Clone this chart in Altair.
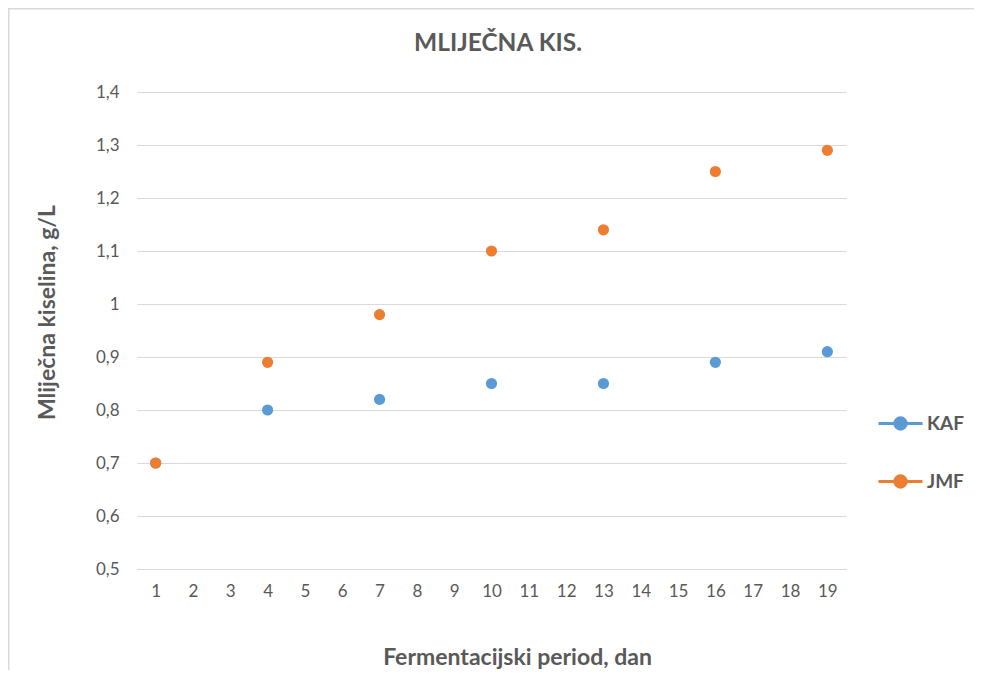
import altair as alt
import pandas as pd

days = [1, 4, 7, 10, 13, 16, 19]
kaf = [0.70, 0.80, 0.82, 0.85, 0.85, 0.89, 0.91]
jmf = [0.70, 0.89, 0.98, 1.10, 1.14, 1.25, 1.29]
series = ["KAF", "JMF"]
colors = ["#5B9BD5", "#ED7D31"]
x_ticks = list(range(1, 20))
y_ticks = [0.5, 0.6, 0.7, 0.8, 0.9, 1.0, 1.1, 1.2, 1.3, 1.4]
title_text = "MLIJEČNA KIS."

rows = []
for d, v in zip(days, kaf):
    rows.append({"dan": d, "vrijednost": v, "serija": "KAF"})
for d, v in zip(days, jmf):
    rows.append({"dan": d, "vrijednost": v, "serija": "JMF"})
df = pd.DataFrame(rows)

FONT = "Lato"
GRAY = "#595959"
W, H = 709, 477
PL, PT = 129, 84

scale_c = alt.Scale(domain=series, range=colors)
legend = alt.Legend(
    title=None, orient="none", legendX=740, legendY=308,
    symbolType="M-1,0H1M-0.26,0A0.26,0.26,0,1,1,0.26,0A0.26,0.26,0,1,1,-0.26,0Z",
    symbolSize=1936, symbolStrokeWidth=3, rowPadding=22, labelOffset=3,
    labelFont=FONT, labelFontSize=19, labelFontWeight="bold", labelColor=GRAY,
    padding=0,
)

points = alt.Chart(df).mark_point(filled=True, size=125, opacity=1, strokeWidth=0).encode(
    x=alt.X("dan:Q", scale=alt.Scale(domain=[0.5, 19.5], nice=False, zero=False),
            axis=alt.Axis(values=x_ticks, grid=False, ticks=False, domain=False,
                          title="Fermentacijski period, dan", labelPadding=14,
                          titleX=380, titleY=88, titleBaseline="middle", titleAlign="center")),
    y=alt.Y("vrijednost:Q", scale=alt.Scale(domain=[0.5, 1.4], nice=False, zero=False),
            axis=alt.Axis(values=y_ticks, grid=True, ticks=False, domain=False,
                          title="Mliječna kiselina, g/L", labelPadding=18,
                          labelExpr="replace(toString(round(datum.value*10)/10), '.', ',')",
                          titleX=-90, titleY=220, titleBaseline="middle", titleAlign="center")),
    color=alt.Color("serija:N", scale=scale_c, legend=legend),
    stroke=alt.Stroke("serija:N", scale=scale_c, legend=legend),
    order=alt.Order("ord:Q"),
).transform_calculate(ord="datum.serija == 'KAF' ? 0 : 1")

one = pd.DataFrame({"t": [title_text]})
frame_left = alt.Chart(one).mark_rule(stroke="#D9D9D9", strokeWidth=1.5).encode(
    x=alt.value(-PL + 0.75), y=alt.value(-PT), y2=alt.value(H + 200),
)
frame_top = alt.Chart(one).mark_rule(stroke="#D9D9D9", strokeWidth=1.5).encode(
    y=alt.value(-PT + 0.75), x=alt.value(-PL), x2=alt.value(W + 400),
)
title = alt.Chart(one).mark_text(
    font=FONT, fontSize=24.5, fontWeight="bold", color=GRAY, align="center", baseline="middle"
).encode(text="t:N", x=alt.value(361), y=alt.value(-48))

chart = alt.layer(frame_left, frame_top, title, points).properties(
    width=W, height=H,
    autosize=alt.AutoSizeParams(type="none"),
    padding={"left": PL, "top": PT, "right": 982 - 16 - PL - W, "bottom": 678 - 16 - PT - H},
).configure_view(stroke=None).configure_axis(
    labelFont=FONT, labelFontSize=17, labelColor=GRAY,
    titleFont=FONT, titleFontSize=23, titleFontWeight="bold", titleColor=GRAY,
    gridColor="#D9D9D9", gridWidth=1,
)

chart.save("out.html", embed_options={"renderer": "svg", "actions": False})
